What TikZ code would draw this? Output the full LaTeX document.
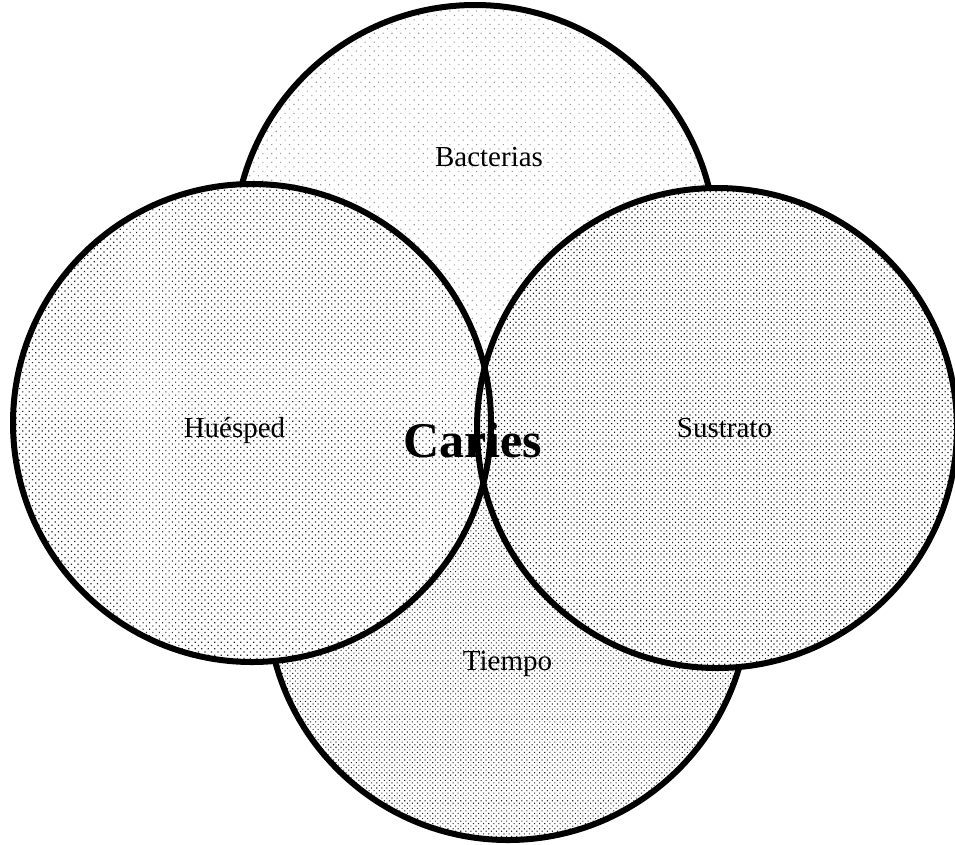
\documentclass[tikz,border=0pt]{standalone}
\usepackage{fontspec}
\setmainfont{Liberation Serif}
\usetikzlibrary{patterns.meta}
\begin{document}
\begin{tikzpicture}[x=1pt,y=-1pt,
  ring/.style={circle, draw=black, line width=6pt, inner sep=0pt, outer sep=0pt},
  lbl/.style={anchor=base, inner sep=0pt, font=\fontsize{29}{30}\selectfont},
  bigl/.style={anchor=base, inner sep=0pt, font=\fontsize{50}{52}\selectfont\bfseries}]
\useasboundingbox (0,0) rectangle (955,844);
% top circle
\node[ring, minimum size=482pt, preaction={fill=white},
      pattern={Dots[distance=6.3pt, radius=0.8pt, angle=45]}, pattern color=gray!80]
      (top) at (475,246) {};
% bottom circle
\node[ring, minimum size=482pt, preaction={fill=white},
      pattern={Dots[distance=3.6pt, radius=0.75pt, angle=45]}, pattern color=black!85]
      (bot) at (508,599) {};
% left circle
\node[ring, minimum size=478pt, preaction={fill=white},
      pattern={Dots[distance=4.6pt, radius=0.85pt, angle=45]}, pattern color=black!85]
      (lft) at (252,423) {};
% right circle
\node[ring, minimum size=480pt, preaction={fill=white},
      pattern={Dots[distance=4.1pt, radius=0.85pt, angle=45]}, pattern color=black!90]
      (rgt) at (717,428) {};
% left outline visible through the right circle
\begin{scope}
  \clip (rgt.center) circle (240pt);
  \draw[line width=6pt] (lft.center) circle (239pt);
\end{scope}
% labels
\node[lbl] (bac) at (489,166) {Bacterias};
\node[lbl] (hue) at (234.5,437) {Huésped};
\node[lbl] (sus) at (724.5,437) {Sustrato};
\node[lbl] (tie) at (507.5,670) {Tiempo};
\node[bigl] (car) at (472.5,457) {Caries};
\end{tikzpicture}
\end{document}
